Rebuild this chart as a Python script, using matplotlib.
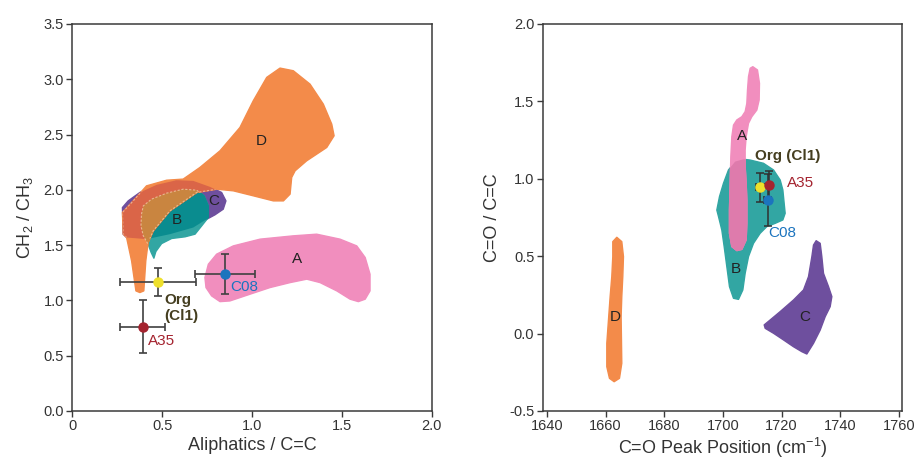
import matplotlib
matplotlib.use("Agg")
import matplotlib.pyplot as plt
from matplotlib.patches import Polygon

plt.rcParams["font.family"] = ["Liberation Sans", "DejaVu Sans"]
plt.rcParams["mathtext.default"] = "regular"

# ---------------------------------------------------------------------------
# Data: cluster regions (outlines) and particle-type points
# ---------------------------------------------------------------------------

ORANGE = "#F38B4A"
PURPLE = "#6E4F9E"
TEAL   = "#32A6A3"
PINK   = "#F18EBE"

# colours where the regions overlap
D_OVER_C = "#DA6548"
D_OVER_B = "#C98540"
B_OVER_C = "#0A8C8F"
A_OVER_B = "#DE7BAC"

# Left panel: Aliphatics / C=C vs CH2 / CH3
L_D_X = [0.376, 0.354, 0.330, 0.302, 0.283, 0.279, 0.339, 0.413, 0.525, 0.617,
         0.710, 0.822, 0.933, 1.007, 1.082, 1.156, 1.230, 1.323, 1.397, 1.444,
         1.457, 1.416, 1.304, 1.240, 1.221, 1.212, 1.175, 1.119, 1.007, 0.896,
         0.803, 0.692, 0.543, 0.450, 0.422, 0.409, 0.398]
L_D_Y = [1.071, 1.086, 1.357, 1.569, 1.599, 1.795, 1.900, 2.036, 2.087, 2.097,
         2.202, 2.353, 2.564, 2.805, 3.017, 3.101, 3.077, 2.956, 2.775, 2.594,
         2.489, 2.383, 2.262, 2.172, 2.112, 1.961, 1.900, 1.900, 1.946, 1.991,
         2.006, 1.976, 1.810, 1.629, 1.523, 1.357, 1.086]

L_C_X = [0.283, 0.279, 0.311, 0.376, 0.469, 0.580, 0.673, 0.766, 0.831, 0.855,
         0.840, 0.794, 0.738, 0.673, 0.543, 0.413, 0.302]
L_C_Y = [1.599, 1.840, 1.900, 1.976, 2.045, 2.087, 2.081, 2.027, 1.976, 1.900,
         1.825, 1.774, 1.725, 1.659, 1.599, 1.554, 1.569]

L_B_X = [0.385, 0.395, 0.441, 0.525, 0.617, 0.692, 0.733, 0.757, 0.757, 0.720,
         0.683, 0.627, 0.553, 0.497, 0.465, 0.454, 0.439, 0.422, 0.395, 0.382]
L_B_Y = [1.780, 1.855, 1.916, 1.970, 2.006, 1.997, 1.946, 1.855, 1.750, 1.674,
         1.599, 1.575, 1.560, 1.514, 1.442, 1.382, 1.433, 1.508, 1.584, 1.674]

L_A_X = [0.738, 0.757, 0.803, 0.896, 1.045, 1.230, 1.360, 1.490, 1.583, 1.630,
         1.657, 1.657, 1.630, 1.592, 1.546, 1.472, 1.379, 1.305, 1.212, 1.100,
         0.989, 0.877, 0.822, 0.775, 0.744]
L_A_Y = [1.207, 1.327, 1.418, 1.493, 1.554, 1.584, 1.599, 1.554, 1.493, 1.388,
         1.237, 1.086, 1.011, 0.989, 1.011, 1.086, 1.161, 1.192, 1.161, 1.116,
         1.056, 0.995, 0.989, 1.041, 1.116]

L_REGION_LABELS = {"A": (1.249, 1.373), "B": (0.584, 1.725),
                   "C": (0.785, 1.900), "D": (1.054, 2.443)}

# Right panel: C=O peak position vs C=O / C=C
R_A_X = [1710.17, 1711.76, 1712.44, 1712.33, 1711.54, 1709.83, 1708.70, 1707.90,
         1707.56, 1707.56, 1707.90, 1708.13, 1708.13, 1707.90, 1706.43, 1704.72,
         1703.02, 1702.22, 1702.22, 1702.45, 1702.68, 1703.02, 1703.59, 1704.72,
         1706.43, 1707.56, 1708.13, 1708.36, 1708.70, 1709.27]
R_A_Y = [1.724, 1.703, 1.617, 1.509, 1.444, 1.401, 1.358, 1.272,
         1.186, 1.078, 0.971, 0.863, 0.712, 0.605, 0.544, 0.536,
         0.562, 0.648, 0.798, 0.971, 1.143, 1.272, 1.347, 1.380,
         1.401, 1.434, 1.487, 1.574, 1.660, 1.714]

R_B_X = [1709.27, 1713.81, 1717.22, 1719.49, 1720.40, 1720.85, 1721.19, 1720.40,
         1717.78, 1714.94, 1712.67, 1710.40, 1708.70, 1707.56, 1706.77, 1705.29,
         1703.59, 1702.22, 1701.32, 1700.41, 1699.61, 1698.48, 1697.91, 1698.82,
         1700.18, 1701.88, 1704.15, 1706.99]
R_B_Y = [1.121, 1.100, 1.057, 0.992, 0.928, 0.841, 0.777, 0.734,
         0.712, 0.691, 0.648, 0.583, 0.497, 0.389, 0.282, 0.221,
         0.228, 0.303, 0.432, 0.562, 0.669, 0.756, 0.798, 0.885,
         0.971, 1.057, 1.111, 1.126]

R_C_X = [1731.75, 1733.12, 1733.68, 1734.25, 1735.96, 1737.09, 1736.52, 1734.82,
         1733.12, 1730.84, 1728.57, 1726.87, 1724.03, 1720.62, 1717.22, 1714.38,
         1714.04, 1716.08, 1719.49, 1724.03, 1727.44, 1729.14, 1730.28, 1730.84]
R_C_Y = [0.600, 0.583, 0.497, 0.389, 0.303, 0.239, 0.174, 0.109,
         0.023, -0.063, -0.132, -0.117, -0.085, -0.041, 0.002, 0.034,
         0.056, 0.088, 0.142, 0.217, 0.282, 0.368, 0.497, 0.572]

R_D_X = [1663.84, 1665.54, 1666.11, 1665.88, 1665.54, 1665.31, 1665.43, 1665.54,
         1664.75, 1662.93, 1661.34, 1660.43, 1660.43, 1661.00, 1661.57, 1662.13,
         1662.47, 1662.47]
R_D_Y = [0.622, 0.594, 0.497, 0.368, 0.239, 0.109, -0.041, -0.192,
         -0.289, -0.311, -0.289, -0.214, -0.063, 0.088, 0.239, 0.368,
         0.497, 0.594]

R_REGION_LABELS = {"A": (1706.4, 1.276), "B": (1704.4, 0.417),
                   "C": (1727.7, 0.109), "D": (1663.3, 0.109)}

# Particle types: value, x error, y error (left, right)
TYPES      = ["Org (Cl1)", "C08", "A35"]
TYPE_COLOR = {"Org (Cl1)": "#EEE02C", "C08": "#1C74BE", "A35": "#A4232F"}
TEXT_COLOR = {"Org (Cl1)": "#453E20", "C08": "#1C74BE", "A35": "#A4232F"}

L_PT_X  = [0.478, 0.848, 0.393]
L_PT_Y  = [1.167, 1.237, 0.763]
L_PT_XE = [0.212, 0.166, 0.125]
L_PT_YE = [0.125, 0.181, 0.238]

R_PT_X  = [1712.7, 1715.2, 1715.7]
R_PT_Y  = [0.945, 0.863, 0.960]
R_PT_XE = [1.3, 1.2, 0.5]
R_PT_YE = [0.094, 0.170, 0.088]


# ---------------------------------------------------------------------------
# Helpers
# ---------------------------------------------------------------------------

def _region(ax, xs, ys, color, z=1, clip=None):
    p = Polygon(list(zip(xs, ys)), closed=True, facecolor=color,
                edgecolor=color, linewidth=1.0, joinstyle="round", zorder=z)
    ax.add_patch(p)
    if clip is not None:
        p.set_clip_path(clip)
    return p


def _rim(ax, xs, ys, clip, z):
    # pale outline of a region where it lies under another one
    p = Polygon(list(zip(xs, ys)), closed=True, facecolor="none",
                edgecolor="#F5D2B0", linewidth=0.8, linestyle=(0, (2, 1.5)),
                alpha=0.7, zorder=z)
    ax.add_patch(p)
    p.set_clip_path(clip)


def _style(ax):
    for sp in ax.spines.values():
        sp.set_color("#3a3a3a")
        sp.set_linewidth(1.1)
    ax.tick_params(direction="out", length=4, width=1.0, color="#3a3a3a",
                   labelsize=10.5, labelcolor="#333333", pad=2)


fig = plt.figure(figsize=(9.2, 4.61), dpi=100)
ax1 = fig.add_axes([0.0786, 0.1085, 0.3906, 0.8395])
ax2 = fig.add_axes([0.5899, 0.1085, 0.3909, 0.8395])

# ---- left panel ----
_region(ax1, L_A_X, L_A_Y, PINK)
c_patch = _region(ax1, L_C_X, L_C_Y, PURPLE, z=1)
b_patch = _region(ax1, L_B_X, L_B_Y, TEAL, z=2)
_region(ax1, L_B_X, L_B_Y, B_OVER_C, z=2.1, clip=c_patch)
d_patch = _region(ax1, L_D_X, L_D_Y, ORANGE, z=3)
_region(ax1, L_D_X, L_D_Y, D_OVER_C, z=3.1, clip=c_patch)
_region(ax1, L_D_X, L_D_Y, D_OVER_B, z=3.2, clip=b_patch)
_rim(ax1, L_B_X, L_B_Y, d_patch, z=3.3)
_rim(ax1, L_D_X, L_D_Y, c_patch, z=3.3)
for lab, (x, y) in L_REGION_LABELS.items():
    ax1.text(x, y, lab, ha="center", va="center", fontsize=11, color="#222222", zorder=5)

for i, t in enumerate(TYPES):
    ax1.errorbar(L_PT_X[i], L_PT_Y[i], xerr=L_PT_XE[i], yerr=L_PT_YE[i],
                 fmt="o", ms=6.5, mfc=TYPE_COLOR[t], mec=TYPE_COLOR[t],
                 ecolor="#404040", elinewidth=1.2, capsize=3, capthick=1.2, zorder=6)
ax1.text(0.510, 1.065, "Org\n(Cl1)", ha="left", va="top", fontsize=11,
         fontweight="bold", color=TEXT_COLOR["Org (Cl1)"], linespacing=1.2, zorder=7)
ax1.text(0.878, 1.122, "C08", ha="left", va="center", fontsize=11,
         color=TEXT_COLOR["C08"], zorder=7)
ax1.text(0.423, 0.633, "A35", ha="left", va="center", fontsize=11,
         color=TEXT_COLOR["A35"], zorder=7)

ax1.set_xlim(0, 2.0)
ax1.set_ylim(0, 3.5)
ax1.set_xticks([0, 0.5, 1.0, 1.5, 2.0])
ax1.set_xticklabels(["0", "0.5", "1.0", "1.5", "2.0"])
ax1.set_yticks([0.0, 0.5, 1.0, 1.5, 2.0, 2.5, 3.0, 3.5])
ax1.set_yticklabels([f"{v:.1f}" for v in ax1.get_yticks()])
ax1.set_xlabel("Aliphatics / C=C", fontsize=13, color="#333333", labelpad=3)
ax1.set_ylabel("CH$_2$ / CH$_3$", fontsize=13, color="#333333", labelpad=6)
_style(ax1)

# ---- right panel ----
_region(ax2, R_D_X, R_D_Y, ORANGE)
_region(ax2, R_C_X, R_C_Y, PURPLE)
rb_patch = _region(ax2, R_B_X, R_B_Y, TEAL, z=2)
_region(ax2, R_A_X, R_A_Y, PINK, z=3)
_region(ax2, R_A_X, R_A_Y, A_OVER_B, z=3.1, clip=rb_patch)
for lab, (x, y) in R_REGION_LABELS.items():
    ax2.text(x, y, lab, ha="center", va="center", fontsize=11, color="#222222", zorder=5)

for i, t in enumerate(TYPES):
    ax2.errorbar(R_PT_X[i], R_PT_Y[i], xerr=R_PT_XE[i], yerr=R_PT_YE[i],
                 fmt="o", ms=6.5, mfc=TYPE_COLOR[t], mec=TYPE_COLOR[t],
                 ecolor="#303030", elinewidth=1.1, capsize=3, capthick=1.1, zorder=6)
ax2.text(1711.0, 1.147, "Org (Cl1)", ha="left", va="center", fontsize=11,
         fontweight="bold", color=TEXT_COLOR["Org (Cl1)"], zorder=7)
ax2.text(1721.7, 0.971, "A35", ha="left", va="center", fontsize=11,
         color=TEXT_COLOR["A35"], zorder=7)
ax2.text(1715.5, 0.648, "C08", ha="left", va="center", fontsize=11,
         color=TEXT_COLOR["C08"], zorder=7)

ax2.set_xlim(1638.6, 1761.1)
ax2.set_ylim(-0.5, 2.0)
ax2.set_xticks(range(1640, 1761, 20))
ax2.set_yticks([-0.5, 0.0, 0.5, 1.0, 1.5, 2.0])
ax2.set_yticklabels([f"{v:.1f}" for v in ax2.get_yticks()])
ax2.set_xlabel("C=O Peak Position (cm$^{-1}$)", fontsize=13, color="#333333", labelpad=2)
ax2.set_ylabel("C=O / C=C", fontsize=13, color="#333333", labelpad=6)
_style(ax2)

fig.savefig("out.png", dpi=100)
